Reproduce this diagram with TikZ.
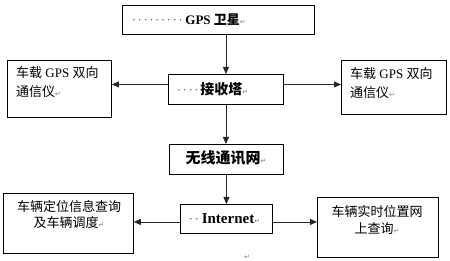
\documentclass[tikz,border=0pt]{standalone}
\usepackage{fontspec}
\setmainfont{Liberation Serif}
\newfontfamily\cjk{Noto Sans CJK SC}
\newfontfamily\djv{DejaVu Sans}
\usetikzlibrary{arrows.meta}
\newcommand\pmk{{\djv\fontsize{7}{7}\selectfont\textcolor{gray}{↵}}}
\newcommand\sdot{\makebox[5.8pt]{\textcolor{black!60}{·}}}
\begin{document}
\begin{tikzpicture}[x=1pt,y=-1pt,
  box/.style={draw=black,line width=0.9pt,inner sep=0pt,anchor=north west},
  txt/.style={inner sep=0pt,font=\fontsize{13}{19}\selectfont},
  arr/.style={draw=black!85,line width=0.8pt,-{Triangle[length=7pt,width=6pt]}},
  ln/.style={draw=black!85,line width=0.8pt}]
\useasboundingbox (0,0) rectangle (450,261);
% boxes
\node[box,minimum width=192pt,minimum height=29pt] (gps) at (122,5) {};
\node[box,minimum width=104pt,minimum height=57pt] (lb) at (7,60) {};
\node[box,minimum width=105pt,minimum height=54pt] (rb) at (341,60) {};
\node[box,minimum width=115pt,minimum height=30pt] (jst) at (168,74) {};
\node[box,minimum width=114pt,minimum height=30pt] (wx) at (169,144) {};
\node[box,minimum width=92pt,minimum height=29pt] (inet) at (180,204) {};
\node[box,minimum width=130pt,minimum height=60pt] (bl) at (3,193) {};
\node[box,minimum width=121pt,minimum height=60pt] (br) at (317,197) {};
% texts
\node[txt,anchor=west] (tgps) at (131,19.5) {\sdot\sdot\sdot\sdot\sdot\sdot\sdot\sdot\sdot\hspace{2pt}\textbf{GPS} {\cjk\bfseries 卫星}\pmk};
\node[txt,anchor=west,align=left] (tlb) at (16,82.5) {{\cjk 车载} GPS {\cjk 双向}\\{\cjk 通信仪}\pmk};
\node[txt,anchor=west,align=left] (trb) at (350,83) {{\cjk 车载} GPS {\cjk 双向}\\{\cjk 通信仪}\pmk};
\node[txt,anchor=west] (tjst) at (176,89) {\sdot\sdot\sdot\sdot\hspace{1pt}{\cjk\bfseries\fontsize{14}{14}\selectfont 接收塔}\pmk};
\node[txt] (twx) at (226,158) {{\cjk\bfseries\fontsize{15}{15}\selectfont 无线通讯网}\pmk};
\node[txt,anchor=west] (tinet) at (188,218.5) {\sdot\sdot\hspace{2pt}{\fontsize{15}{15}\selectfont\bfseries Internet}\pmk};
\node[txt,align=center,font=\fontsize{13}{15.5}\selectfont] (tbl) at (69,214.5) {{\cjk 车辆定位信息查询}\\{\cjk 及车辆调度}\pmk};
\node[txt,align=center,font=\fontsize{13}{17}\selectfont] (tbr) at (377,220.5) {{\cjk 车辆实时位置网}\\{\cjk 上查询}\pmk};
\node[inner sep=0pt] (pend) at (247,257) {\pmk};
% connectors
\draw[arr] (gps.south -| jst.north) -- (jst.north);
\draw[arr] ([yshift=5pt]jst.west) -- ([yshift=5pt]jst.west -| lb.east);
\draw[arr] ([yshift=5pt]jst.east) -- ([yshift=5pt]jst.east -| rb.west);
\draw[arr] (jst.south) -- (jst.south |- wx.north);
\draw[arr] (wx.south) -- (wx.south |- inet.north);
\draw[arr] ([yshift=-3pt]inet.west) -- ([yshift=-3pt]inet.west -| bl.east);
\draw[arr] ([yshift=-3pt]inet.east) -- ([yshift=-3pt]inet.east -| br.west);
\end{tikzpicture}
\end{document}
